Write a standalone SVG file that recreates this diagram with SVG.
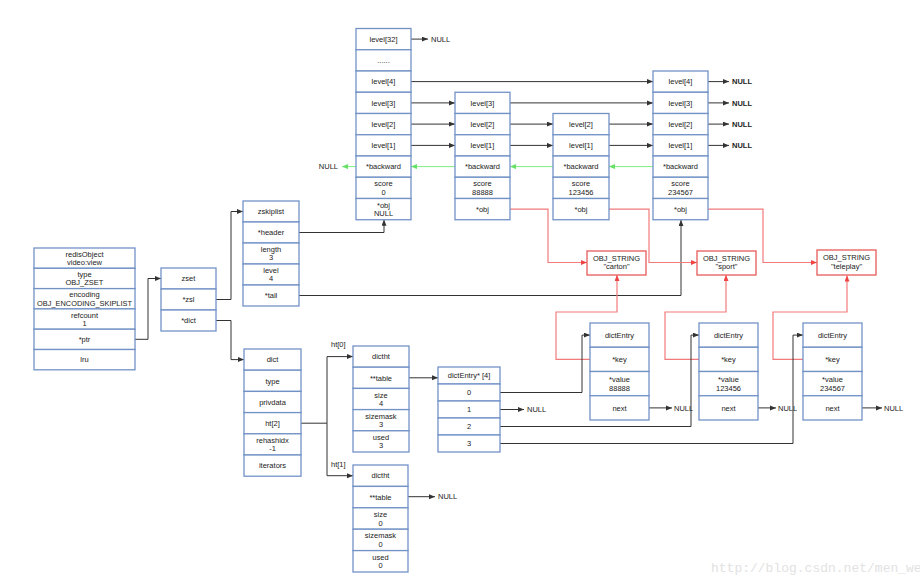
<svg xmlns="http://www.w3.org/2000/svg" width="920" height="585" viewBox="0 0 920 585">
<style>
.b{fill:#fff;stroke:#7292c6;stroke-width:1.3}
.rb{fill:#fff;stroke:#e85a5a;stroke-width:1.3}
text{font-family:"Liberation Sans",Arial,sans-serif;font-size:7.5px;fill:#222}
.t{text-anchor:middle}
.n{text-anchor:start}
.nb{text-anchor:start;font-weight:bold}
.c{fill:none;stroke:#333;stroke-width:1}
.g{fill:none;stroke:#80f080;stroke-width:1}
.r{fill:none;stroke:#f27a7a;stroke-width:1.2}
.wm{font-family:"Liberation Mono",monospace;font-size:13px;fill:#e2e2e2}
</style>
<defs>
<marker id="a" markerUnits="userSpaceOnUse" markerWidth="7" markerHeight="6" refX="6" refY="2.5" orient="auto"><path d="M0,0 L6,2.5 L0,5 z" fill="#333"/></marker>
<marker id="ag" markerUnits="userSpaceOnUse" markerWidth="7" markerHeight="6" refX="6" refY="2.5" orient="auto"><path d="M0,0 L6,2.5 L0,5 z" fill="#66e066"/></marker>
<marker id="ar" markerUnits="userSpaceOnUse" markerWidth="7" markerHeight="6" refX="6" refY="2.5" orient="auto"><path d="M0,0 L6,2.5 L0,5 z" fill="#ee4444"/></marker>
</defs>

<g id="connectors">
<path class="c" d="M135,339.3 H148 V278.5 H161" marker-end="url(#a)"/>
<path class="c" d="M216,299.5 H231 V211.5 H243" marker-end="url(#a)"/>
<path class="c" d="M216,320.5 H231 V359.6 H244" marker-end="url(#a)"/>
<path class="c" d="M299,232.5 H384 V219.75" marker-end="url(#a)"/>
<path class="c" d="M299,295.5 H681 V220" marker-end="url(#a)"/>
<path class="c" d="M411,39.1 H428" marker-end="url(#a)"/>
<path class="c" d="M411,81.6 H653" marker-end="url(#a)"/>
<path class="c" d="M411,102.9 H455" marker-end="url(#a)"/>
<path class="c" d="M510,102.9 H653" marker-end="url(#a)"/>
<path class="c" d="M411,124.1 H455" marker-end="url(#a)"/>
<path class="c" d="M510,124.1 H553" marker-end="url(#a)"/>
<path class="c" d="M609,124.1 H653" marker-end="url(#a)"/>
<path class="c" d="M411,145.4 H455" marker-end="url(#a)"/>
<path class="c" d="M510,145.4 H553" marker-end="url(#a)"/>
<path class="c" d="M609,145.4 H653" marker-end="url(#a)"/>
<path class="c" d="M708,81.6 H729" marker-end="url(#a)"/>
<path class="c" d="M708,102.9 H729" marker-end="url(#a)"/>
<path class="c" d="M708,124.1 H729" marker-end="url(#a)"/>
<path class="c" d="M708,145.4 H729" marker-end="url(#a)"/>
<path class="g" d="M455,166.6 H411" marker-end="url(#ag)"/>
<path class="g" d="M553,166.6 H510" marker-end="url(#ag)"/>
<path class="g" d="M653,166.6 H609" marker-end="url(#ag)"/>
<path class="g" d="M356,166.6 H342" marker-end="url(#ag)"/>
<path class="r" d="M510,209.1 H548 V262.5 H587" marker-end="url(#ar)"/>
<path class="r" d="M609,209.1 H649 V262.5 H697" marker-end="url(#ar)"/>
<path class="r" d="M708,209.1 H763 V262.5 H817" marker-end="url(#ar)"/>
<path class="r" d="M590,359.4 H556 V312 H617 V275" marker-end="url(#ar)"/>
<path class="r" d="M699,359.4 H665 V312 H726 V275" marker-end="url(#ar)"/>
<path class="r" d="M803,359.4 H773 V312 H847 V275.5" marker-end="url(#ar)"/>
<path class="c" d="M301,423.2 H327"/>
<path class="c" d="M327,423.2 V356.6 H353" marker-end="url(#a)"/>
<path class="c" d="M327,423.2 V475.7 H353" marker-end="url(#a)"/>
<path class="c" d="M409,377.8 H438" marker-end="url(#a)"/>
<path class="c" d="M408,496.7 H435" marker-end="url(#a)"/>
<path class="c" d="M500,392.5 H582 V335.1 H590" marker-end="url(#a)"/>
<path class="c" d="M500,409.5 H524" marker-end="url(#a)"/>
<path class="c" d="M500,426.5 H691 V335.1 H699" marker-end="url(#a)"/>
<path class="c" d="M500,443.5 H793 V335.1 H803" marker-end="url(#a)"/>
<path class="c" d="M649,407.9 H672" marker-end="url(#a)"/>
<path class="c" d="M758,407.9 H776" marker-end="url(#a)"/>
<path class="c" d="M862,407.9 H882" marker-end="url(#a)"/>
</g>

<g id="null-labels">
<text class="n" x="431" y="41.8">NULL</text>
<text class="nb" x="732" y="84.3">NULL</text>
<text class="nb" x="732" y="105.6">NULL</text>
<text class="nb" x="732" y="126.8">NULL</text>
<text class="nb" x="732" y="148.1">NULL</text>
<text x="338" y="169.3" style="text-anchor:end">NULL</text>
<text class="n" x="438" y="499.4">NULL</text>
<text class="n" x="527" y="412.2">NULL</text>
<text class="n" x="674" y="410.6">NULL</text>
<text class="n" x="778" y="410.6">NULL</text>
<text class="n" x="884" y="410.6">NULL</text>
<text class="n" x="331" y="346.5">ht[0]</text>
<text class="n" x="331" y="466.5">ht[1]</text>
</g>

<g id="redisObject">
<rect class="b" x="34" y="248" width="101" height="20.3"/>
<rect class="b" x="34" y="268.3" width="101" height="20.3"/>
<rect class="b" x="34" y="288.6" width="101" height="20.3"/>
<rect class="b" x="34" y="308.9" width="101" height="20.3"/>
<rect class="b" x="34" y="329.2" width="101" height="20.3"/>
<rect class="b" x="34" y="349.5" width="101" height="20.3"/>
<text class="t" x="84.5" y="256.6">redisObject</text>
<text class="t" x="84.5" y="265.1">video:view</text>
<text class="t" x="84.5" y="276.9">type</text>
<text class="t" x="84.5" y="285.4">OBJ_ZSET</text>
<text class="t" x="84.5" y="297.2">encoding</text>
<text class="t" x="84.5" y="305.7" textLength="95" lengthAdjust="spacingAndGlyphs">OBJ_ENCODING_SKIPLIST</text>
<text class="t" x="84.5" y="317.5">refcount</text>
<text class="t" x="84.5" y="326">1</text>
<text class="t" x="84.5" y="342">*ptr</text>
<text class="t" x="84.5" y="362.3">lru</text>
</g>

<g id="zset">
<rect class="b" x="161" y="268" width="55" height="21"/>
<rect class="b" x="161" y="289" width="55" height="21"/>
<rect class="b" x="161" y="310" width="55" height="21"/>
<text class="t" x="188.5" y="281.2">zset</text>
<text class="t" x="188.5" y="302.2">*zsl</text>
<text class="t" x="188.5" y="323.2">*dict</text>
</g>

<g id="zskiplist">
<rect class="b" x="243" y="201" width="56" height="21"/>
<rect class="b" x="243" y="222" width="56" height="21"/>
<rect class="b" x="243" y="243" width="56" height="21"/>
<rect class="b" x="243" y="264" width="56" height="21"/>
<rect class="b" x="243" y="285" width="56" height="21"/>
<text class="t" x="271" y="214.2">zskiplist</text>
<text class="t" x="271" y="235.2">*header</text>
<text class="t" x="271" y="251.9">length</text>
<text class="t" x="271" y="260.4">3</text>
<text class="t" x="271" y="272.9">level</text>
<text class="t" x="271" y="281.4">4</text>
<text class="t" x="271" y="298.2">*tail</text>
</g>

<g id="header-node">
<rect class="b" x="356" y="28.5" width="55" height="21.25"/>
<rect class="b" x="356" y="49.75" width="55" height="21.25"/>
<rect class="b" x="356" y="71" width="55" height="21.25"/>
<rect class="b" x="356" y="92.25" width="55" height="21.25"/>
<rect class="b" x="356" y="113.5" width="55" height="21.25"/>
<rect class="b" x="356" y="134.75" width="55" height="21.25"/>
<rect class="b" x="356" y="156" width="55" height="21.25"/>
<rect class="b" x="356" y="177.25" width="55" height="21.25"/>
<rect class="b" x="356" y="198.5" width="55" height="21.25"/>
<text class="t" x="383.5" y="41.8">level[32]</text>
<text class="t" x="383.5" y="63">......</text>
<text class="t" x="383.5" y="84.3">level[4]</text>
<text class="t" x="383.5" y="105.6">level[3]</text>
<text class="t" x="383.5" y="126.8">level[2]</text>
<text class="t" x="383.5" y="148.1">level[1]</text>
<text class="t" x="383.5" y="169.3">*backward</text>
<text class="t" x="383.5" y="186.3">score</text>
<text class="t" x="383.5" y="194.8">0</text>
<text class="t" x="383.5" y="207.6">*obj</text>
<text class="t" x="383.5" y="216.1">NULL</text>
</g>

<g id="node-88888">
<rect class="b" x="455" y="92.25" width="55" height="21.25"/>
<rect class="b" x="455" y="113.5" width="55" height="21.25"/>
<rect class="b" x="455" y="134.75" width="55" height="21.25"/>
<rect class="b" x="455" y="156" width="55" height="21.25"/>
<rect class="b" x="455" y="177.25" width="55" height="21.25"/>
<rect class="b" x="455" y="198.5" width="55" height="21.25"/>
<text class="t" x="482.5" y="105.6">level[3]</text>
<text class="t" x="482.5" y="126.8">level[2]</text>
<text class="t" x="482.5" y="148.1">level[1]</text>
<text class="t" x="482.5" y="169.3">*backward</text>
<text class="t" x="482.5" y="186.3">score</text>
<text class="t" x="482.5" y="194.8">88888</text>
<text class="t" x="482.5" y="211.8">*obj</text>
</g>

<g id="node-123456">
<rect class="b" x="553" y="113.5" width="56" height="21.25"/>
<rect class="b" x="553" y="134.75" width="56" height="21.25"/>
<rect class="b" x="553" y="156" width="56" height="21.25"/>
<rect class="b" x="553" y="177.25" width="56" height="21.25"/>
<rect class="b" x="553" y="198.5" width="56" height="21.25"/>
<text class="t" x="581" y="126.8">level[2]</text>
<text class="t" x="581" y="148.1">level[1]</text>
<text class="t" x="581" y="169.3">*backward</text>
<text class="t" x="581" y="186.3">score</text>
<text class="t" x="581" y="194.8">123456</text>
<text class="t" x="581" y="211.8">*obj</text>
</g>

<g id="node-234567">
<rect class="b" x="653" y="71" width="55" height="21.25"/>
<rect class="b" x="653" y="92.25" width="55" height="21.25"/>
<rect class="b" x="653" y="113.5" width="55" height="21.25"/>
<rect class="b" x="653" y="134.75" width="55" height="21.25"/>
<rect class="b" x="653" y="156" width="55" height="21.25"/>
<rect class="b" x="653" y="177.25" width="55" height="21.25"/>
<rect class="b" x="653" y="198.5" width="55" height="21.25"/>
<text class="t" x="680.5" y="84.3">level[4]</text>
<text class="t" x="680.5" y="105.6">level[3]</text>
<text class="t" x="680.5" y="126.8">level[2]</text>
<text class="t" x="680.5" y="148.1">level[1]</text>
<text class="t" x="680.5" y="169.3">*backward</text>
<text class="t" x="680.5" y="186.3">score</text>
<text class="t" x="680.5" y="194.8">234567</text>
<text class="t" x="680.5" y="211.8">*obj</text>
</g>

<g id="obj-carton">
<rect class="rb" x="587" y="251" width="59" height="24"/>
<text class="t" x="616.5" y="260.5">OBJ_STRING</text>
<text class="t" x="616.5" y="269">"carton"</text>
</g>
<g id="obj-sport">
<rect class="rb" x="697" y="251" width="59" height="24"/>
<text class="t" x="726.5" y="260.5">OBJ_STRING</text>
<text class="t" x="726.5" y="269">"sport"</text>
</g>
<g id="obj-teleplay">
<rect class="rb" x="817" y="250" width="59" height="25"/>
<text class="t" x="846.5" y="260">OBJ_STRING</text>
<text class="t" x="846.5" y="268.5">"teleplay"</text>
</g>

<g id="dict">
<rect class="b" x="244" y="349" width="57" height="21.2"/>
<rect class="b" x="244" y="370.2" width="57" height="21.2"/>
<rect class="b" x="244" y="391.4" width="57" height="21.2"/>
<rect class="b" x="244" y="412.6" width="57" height="21.2"/>
<rect class="b" x="244" y="433.8" width="57" height="21.2"/>
<rect class="b" x="244" y="455" width="57" height="21.2"/>
<text class="t" x="272.5" y="362.3">dict</text>
<text class="t" x="272.5" y="383.5">type</text>
<text class="t" x="272.5" y="404.7">privdata</text>
<text class="t" x="272.5" y="425.9">ht[2]</text>
<text class="t" x="272.5" y="442.8">rehashidx</text>
<text class="t" x="272.5" y="451.3">-1</text>
<text class="t" x="272.5" y="468.3">iterators</text>
</g>

<g id="dictht0">
<rect class="b" x="353" y="346" width="56" height="21.2"/>
<rect class="b" x="353" y="367.2" width="56" height="21.2"/>
<rect class="b" x="353" y="388.4" width="56" height="21.2"/>
<rect class="b" x="353" y="409.6" width="56" height="21.2"/>
<rect class="b" x="353" y="430.8" width="56" height="21.2"/>
<text class="t" x="381" y="359.3">dictht</text>
<text class="t" x="381" y="380.5">**table</text>
<text class="t" x="381" y="397.5">size</text>
<text class="t" x="381" y="406">4</text>
<text class="t" x="381" y="418.7">sizemask</text>
<text class="t" x="381" y="427.2">3</text>
<text class="t" x="381" y="439.9">used</text>
<text class="t" x="381" y="448.4">3</text>
</g>

<g id="dictht1">
<rect class="b" x="353" y="465" width="55" height="21.4"/>
<rect class="b" x="353" y="486.4" width="55" height="21.4"/>
<rect class="b" x="353" y="507.8" width="55" height="21.4"/>
<rect class="b" x="353" y="529.2" width="55" height="21.4"/>
<rect class="b" x="353" y="550.6" width="55" height="21.4"/>
<text class="t" x="380.5" y="478.4">dictht</text>
<text class="t" x="380.5" y="499.8">**table</text>
<text class="t" x="380.5" y="517">size</text>
<text class="t" x="380.5" y="525.5">0</text>
<text class="t" x="380.5" y="538.4">sizemask</text>
<text class="t" x="380.5" y="546.9">0</text>
<text class="t" x="380.5" y="559.8">used</text>
<text class="t" x="380.5" y="568.3">0</text>
</g>

<g id="dictEntry-table">
<rect class="b" x="438" y="367" width="62" height="17"/>
<rect class="b" x="438" y="384" width="62" height="17"/>
<rect class="b" x="438" y="401" width="62" height="17"/>
<rect class="b" x="438" y="418" width="62" height="17"/>
<rect class="b" x="438" y="435" width="62" height="17"/>
<text class="t" x="469" y="378.2">dictEntry* [4]</text>
<text class="t" x="469" y="395.2">0</text>
<text class="t" x="469" y="412.2">1</text>
<text class="t" x="469" y="429.2">2</text>
<text class="t" x="469" y="446.2">3</text>
</g>

<g id="dictEntry-1">
<rect class="b" x="590" y="323" width="59" height="24.25"/>
<rect class="b" x="590" y="347.25" width="59" height="24.25"/>
<rect class="b" x="590" y="371.5" width="59" height="24.25"/>
<rect class="b" x="590" y="395.75" width="59" height="24.25"/>
<text class="t" x="619.5" y="337.8">dictEntry</text>
<text class="t" x="619.5" y="362.1">*key</text>
<text class="t" x="619.5" y="382">*value</text>
<text class="t" x="619.5" y="390.5">88888</text>
<text class="t" x="619.5" y="410.6">next</text>
</g>

<g id="dictEntry-2">
<rect class="b" x="699" y="323" width="59" height="24.25"/>
<rect class="b" x="699" y="347.25" width="59" height="24.25"/>
<rect class="b" x="699" y="371.5" width="59" height="24.25"/>
<rect class="b" x="699" y="395.75" width="59" height="24.25"/>
<text class="t" x="728.5" y="337.8">dictEntry</text>
<text class="t" x="728.5" y="362.1">*key</text>
<text class="t" x="728.5" y="382">*value</text>
<text class="t" x="728.5" y="390.5">123456</text>
<text class="t" x="728.5" y="410.6">next</text>
</g>

<g id="dictEntry-3">
<rect class="b" x="803" y="323" width="59" height="24.25"/>
<rect class="b" x="803" y="347.25" width="59" height="24.25"/>
<rect class="b" x="803" y="371.5" width="59" height="24.25"/>
<rect class="b" x="803" y="395.75" width="59" height="24.25"/>
<text class="t" x="832.5" y="337.8">dictEntry</text>
<text class="t" x="832.5" y="362.1">*key</text>
<text class="t" x="832.5" y="382">*value</text>
<text class="t" x="832.5" y="390.5">234567</text>
<text class="t" x="832.5" y="410.6">next</text>
</g>

<text class="wm" x="711" y="572">http://blog.csdn.net/men_we</text>
</svg>
